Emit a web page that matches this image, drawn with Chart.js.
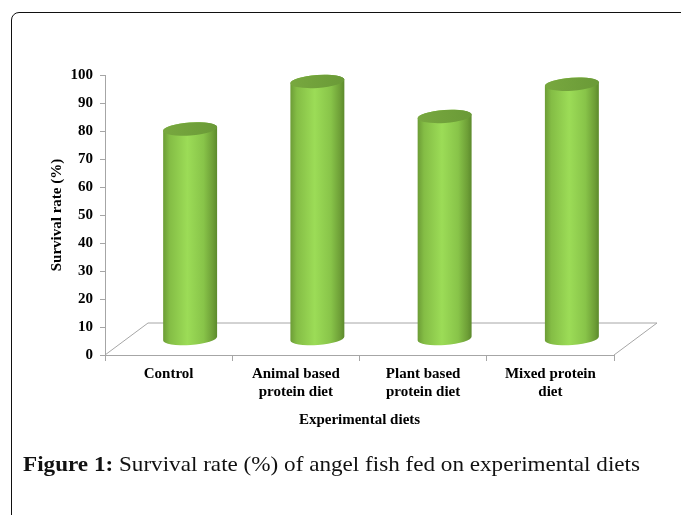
<!DOCTYPE html>
<html lang="en">
<head>
  <meta charset="UTF-8" />
  <title>Survival rate of angel fish</title>
  <script src="https://cdn.jsdelivr.net/npm/chart.js"></script>
  <style>
    body {
      margin: 0;
      width: 681px;
      height: 515px;
      overflow: hidden;
      position: relative;
      background: #fff;
      font-family: "Liberation Serif", "DejaVu Serif", serif;
    }
    .frame {
      position: absolute;
      left: 11px;
      top: 12px;
      width: 720px;
      height: 600px;
      border: 1.5px solid #111;
      border-top-left-radius: 8px;
    }
    #chart {
      position: absolute;
      left: 0;
      top: 0;
    }
    .caption {
      position: absolute;
      left: 23px;
      top: 452px;
      font-size: 21px;
      line-height: 24px;
      white-space: nowrap;
      transform-origin: left top;
      color: #111;
    }
  </style>
</head>
<body>
  <div class="frame"></div>
  <canvas id="chart" width="681" height="515"></canvas>
  <div class="caption" id="caption"><b>Figure 1:</b> Survival rate (%) of angel fish fed on experimental diets</div>

  <script>
    // data
    const diets = [
      ['Control'],
      ['Animal based', 'protein diet'],
      ['Plant based', 'protein diet'],
      ['Mixed protein', 'diet']
    ];
    const survival = [75, 92, 79.5, 91];
    const yTitle = 'Survival rate (%)';
    const xTitle = 'Experimental diets';

    // 3d look
    const DEPTH_X = 43;
    const DEPTH_Y = 32;
    const AXIS_GREY = '#a6a6a6';
    const axisFont = { family: '"Liberation Serif", serif', size: 15, weight: 'bold' };

    const cylinders = {
      id: 'cylinders',
      beforeDatasetsDraw(chart) {
        const { ctx, chartArea: a } = chart;
        ctx.save();
        ctx.strokeStyle = AXIS_GREY;
        ctx.lineWidth = 1;
        ctx.beginPath();
        ctx.moveTo(a.left, a.bottom);
        ctx.lineTo(a.left + DEPTH_X, a.bottom - DEPTH_Y);
        ctx.lineTo(a.right + DEPTH_X, a.bottom - DEPTH_Y);
        ctx.lineTo(a.right, a.bottom);
        ctx.stroke();
        ctx.restore();
      },
      afterDatasetsDraw(chart) {
        const ctx = chart.ctx;
        const rot = -0.07;
        chart.getDatasetMeta(0).data.forEach(bar => {
          const p = bar.getProps(['x', 'y', 'base', 'width'], true);
          const cx = p.x + DEPTH_X / 2;
          const top = p.y - DEPTH_Y / 2;
          const bottom = p.base - DEPTH_Y / 2;
          const rx = p.width / 2;
          const ry = 6.5;

          ctx.save();
          const g = ctx.createLinearGradient(cx - rx, 0, cx + rx, 0);
          g.addColorStop(0, '#6c9c36');
          g.addColorStop(0.12, '#84bd45');
          g.addColorStop(0.45, '#9cdc57');
          g.addColorStop(0.75, '#88c449');
          g.addColorStop(0.92, '#6e9f37');
          g.addColorStop(1, '#5c8a2c');

          ctx.beginPath();
          ctx.ellipse(cx, bottom, rx, ry, rot, 0, Math.PI);
          ctx.lineTo(cx - rx * Math.cos(rot), top - rx * Math.sin(rot));
          ctx.ellipse(cx, top, rx, ry, rot, Math.PI, 0);
          ctx.closePath();
          ctx.fillStyle = g;
          ctx.fill();

          const t = ctx.createLinearGradient(cx - rx, 0, cx + rx, 0);
          t.addColorStop(0, '#78a83f');
          t.addColorStop(1, '#6a9a37');
          ctx.beginPath();
          ctx.ellipse(cx, top, rx, ry, rot, 0, Math.PI * 2);
          ctx.fillStyle = t;
          ctx.fill();
          ctx.restore();
        });
      }
    };

    new Chart(document.getElementById('chart'), {
      type: 'bar',
      data: {
        labels: diets,
        datasets: [{
          data: survival,
          backgroundColor: 'rgba(0,0,0,0)',
          borderWidth: 0,
          categoryPercentage: 1,
          barPercentage: 0.425
        }]
      },
      options: {
        responsive: false,
        animation: false,
        events: [],
        layout: { padding: { left: 48, top: 75, right: 67, bottom: 86 } },
        plugins: {
          legend: { display: false },
          tooltip: { enabled: false }
        },
        scales: {
          x: {
            afterFit: s => { s.height = 74; },
            border: { color: AXIS_GREY },
            grid: { drawOnChartArea: false, tickLength: 6, color: AXIS_GREY },
            ticks: { color: '#000', font: axisFont, padding: 4, maxRotation: 0, autoSkip: false },
            title: { display: true, text: xTitle, color: '#000', font: axisFont, padding: 0 }
          },
          y: {
            min: 0,
            max: 100,
            afterFit: s => { s.width = 57; },
            border: { color: AXIS_GREY },
            grid: { drawOnChartArea: false, tickLength: 5, color: AXIS_GREY },
            ticks: { stepSize: 10, color: '#000', font: axisFont, padding: 7 },
            title: { display: true, text: yTitle, color: '#000', font: axisFont, padding: 0 }
          }
        }
      },
      plugins: [cylinders]
    });

    // squeeze the caption to the width it has in the figure
    const cap = document.getElementById('caption');
    cap.style.transform = 'scaleX(' + (617 / cap.offsetWidth) + ')';
  </script>
</body>
</html>
